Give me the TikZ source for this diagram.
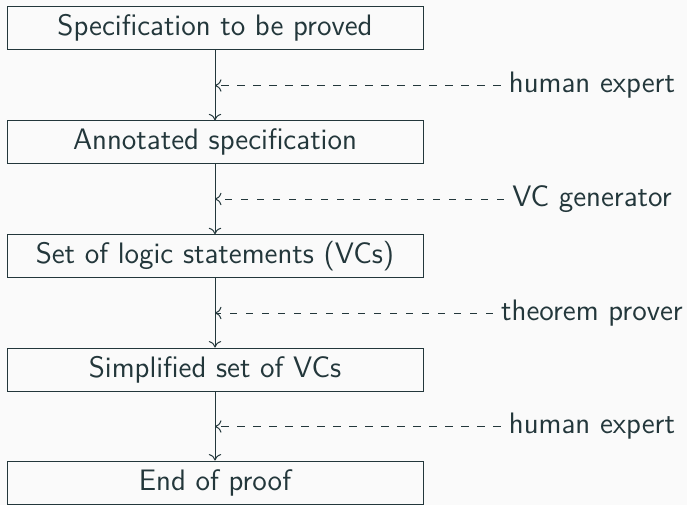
\documentclass[tikz,border=0pt]{standalone}
\usepackage{xcolor}
\usetikzlibrary{arrows.meta}
\definecolor{ink}{HTML}{23373B}
\definecolor{paper}{HTML}{FAFAFA}
\renewcommand{\familydefault}{\sfdefault}
\begin{document}
\begin{tikzpicture}[x=0.5pt,y=-0.5pt,
  >={To[length=3.2pt,width=6.2pt]},
  every node/.style={text=ink,font=\sffamily\fontsize{14.8}{17}\selectfont},
  stage/.style={draw=ink,line width=0.5pt,minimum width=208pt,minimum height=21.5pt,inner sep=0pt},
  flow/.style={draw=ink,line width=0.5pt,->},
  helper/.style={draw=ink,line width=0.5pt,dash pattern=on 3.6pt off 4.4pt,->},
  tool/.style={inner sep=4pt}]
  \fill[paper] (0,0) rectangle (687,505);
  \useasboundingbox (0,0) rectangle (687,505);

  % the five stages of the proof
  \node[stage] (s1) at (215,28)    {Specification to be proved};
  \node[stage] (s2) at (215,142.3) {Annotated specification};
  \node[stage] (s3) at (215,256.2) {Set of logic statements (VCs)};
  \node[stage] (s4) at (215,369.5) {Simplified set of VCs};
  \node[stage] (s5) at (215,482.5) {End of proof};

  % downward transitions
  \draw[flow] (s1) -- (s2);
  \draw[flow] (s2) -- (s3);
  \draw[flow] (s3) -- (s4);
  \draw[flow] (s4) -- (s5);

  % who performs each step
  \node[tool] (t1) at (592,85.5)  {human expert};
  \node[tool] (t2) at (592,199)   {VC generator};
  \node[tool] (t3) at (592,313)   {theorem prover};
  \node[tool] (t4) at (592,426.5) {human expert};

  \coordinate (m1) at (s1.south |- t1);
  \coordinate (m2) at (s2.south |- t2);
  \coordinate (m3) at (s3.south |- t3);
  \coordinate (m4) at (s4.south |- t4);

  \draw[helper] (t1.west) -- (m1);
  \draw[helper] (t2.west) -- (m2);
  \draw[helper] (t3.west) -- (m3);
  \draw[helper] (t4.west) -- (m4);
\end{tikzpicture}
\end{document}
